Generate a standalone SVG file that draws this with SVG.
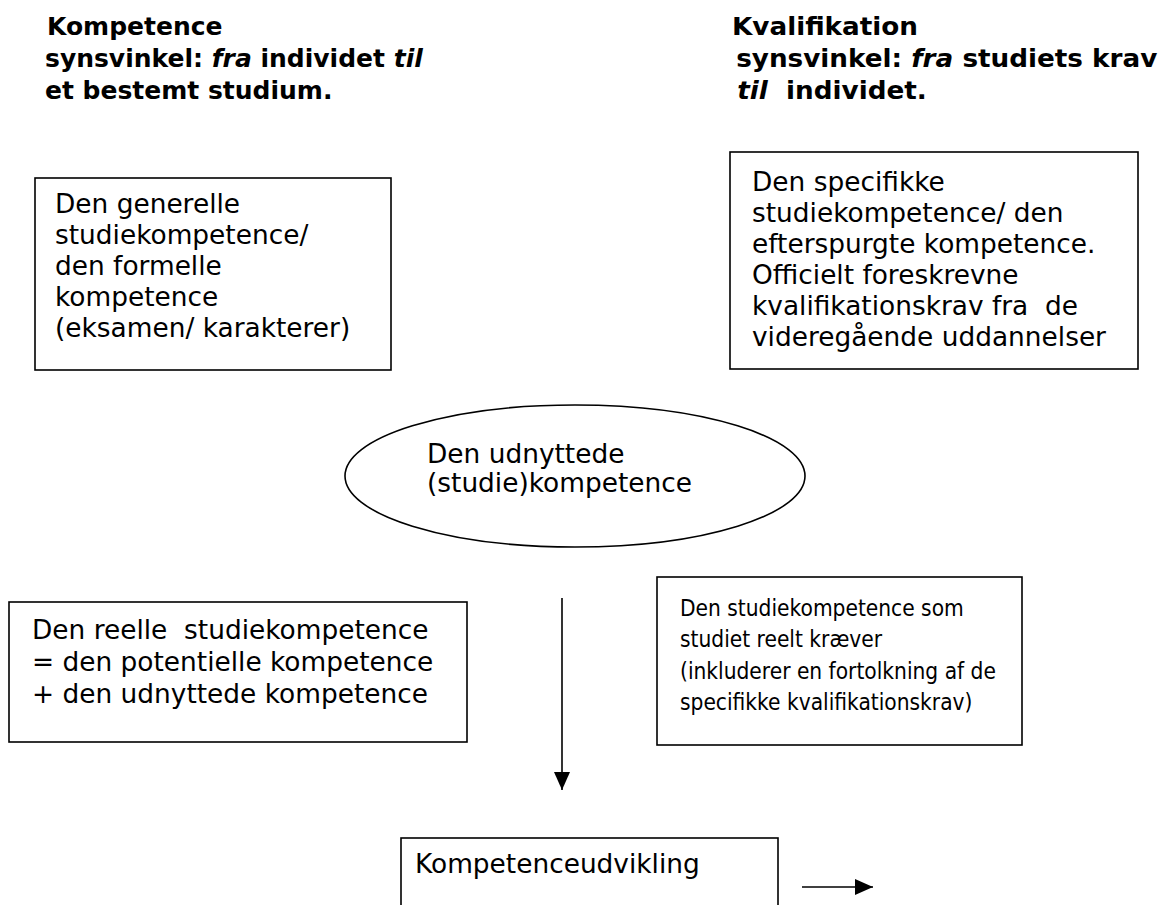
<svg xmlns="http://www.w3.org/2000/svg" width="1164" height="905" viewBox="0 0 1164 905">
  <defs>
    <style>
      .head { font-family: "DejaVu Sans", Verdana, sans-serif; font-size: 25px; font-weight: bold; fill: #000; white-space: pre; }
      .head .it { font-style: italic; }
      .body { font-family: "DejaVu Sans", Verdana, sans-serif; font-size: 26.4px; fill: #000; white-space: pre; }
      .narrow { font-size: 22.5px; }
      .box { fill: #fff; stroke: #000; stroke-width: 1.6; }
      .conn { fill: none; stroke: #000; stroke-width: 1.6; }
    </style>
    <marker id="arrowBig" viewBox="0 0 18 16" refX="18" refY="8" markerWidth="18" markerHeight="16" markerUnits="userSpaceOnUse" orient="auto">
      <path d="M0,0 L18,8 L0,16 Z" fill="#000"/>
    </marker>
  </defs>
  <rect width="1164" height="905" fill="#fff"/>

  <!-- column headings -->
  <g id="heading-kompetence">
    <text class="head" x="47" y="35">Kompetence</text>
    <text class="head" x="45" y="67">synsvinkel: <tspan class="it">fra</tspan> individet <tspan class="it">til</tspan></text>
    <text class="head" x="45" y="99">et bestemt studium.</text>
  </g>
  <g id="heading-kvalifikation" transform="matrix(1.05 0 0 1 732 0)">
    <text class="head" x="0" y="35">Kvalifikation</text>
    <text class="head" x="4" y="67">synsvinkel: <tspan class="it">fra</tspan> studiets krav</text>
    <text class="head" x="5" y="99"><tspan class="it">til</tspan>  individet.</text>
  </g>

  <!-- general study competence -->
  <g id="node-generel">
    <rect class="box" x="35" y="178" width="356" height="192"/>
    <text class="body">
      <tspan x="55" y="213">Den generelle</tspan>
      <tspan x="55" y="244">studiekompetence/</tspan>
      <tspan x="55" y="275">den formelle</tspan>
      <tspan x="55" y="306">kompetence</tspan>
      <tspan x="55" y="337">(eksamen/ karakterer)</tspan>
    </text>
  </g>

  <!-- specific study competence -->
  <g id="node-specifik">
    <rect class="box" x="730" y="152" width="408" height="217"/>
    <text class="body">
      <tspan x="752" y="191">Den specifikke</tspan>
      <tspan x="752" y="222">studiekompetence/ den</tspan>
      <tspan x="752" y="253">efterspurgte kompetence.</tspan>
      <tspan x="752" y="284">Officielt foreskrevne</tspan>
      <tspan x="752" y="315">kvalifikationskrav fra  de</tspan>
      <tspan x="752" y="346">videregående uddannelser</tspan>
    </text>
  </g>

  <!-- utilised competence -->
  <g id="node-udnyttede">
    <ellipse class="box" cx="575" cy="476" rx="230" ry="71"/>
    <text class="body">
      <tspan x="427" y="463">Den udnyttede</tspan>
      <tspan x="427" y="492">(studie)kompetence</tspan>
    </text>
  </g>

  <!-- real study competence -->
  <g id="node-reelle">
    <rect class="box" x="9" y="602" width="458" height="140"/>
    <text class="body">
      <tspan x="32" y="639">Den reelle  studiekompetence</tspan>
      <tspan x="32" y="671">= den potentielle kompetence</tspan>
      <tspan x="32" y="703">+ den udnyttede kompetence</tspan>
    </text>
  </g>

  <!-- competence the study actually requires -->
  <g id="node-kraever">
    <rect class="box" x="657" y="577" width="365" height="168"/>
    <text class="body narrow" transform="matrix(0.9 0 0 1 680 0)">
      <tspan x="0" y="616">Den studiekompetence som</tspan>
      <tspan x="0" y="647">studiet reelt kræver</tspan>
      <tspan x="0" y="679">(inkluderer en fortolkning af de</tspan>
      <tspan x="0" y="710">specifikke kvalifikationskrav)</tspan>
    </text>
  </g>

  <!-- competence development -->
  <g id="node-udvikling">
    <rect class="box" x="401" y="838" width="377" height="80"/>
    <text class="body">
      <tspan x="415" y="873">Kompetenceudvikling</tspan>
    </text>
  </g>

  <!-- connectors -->
  <g id="connectors">
    <line class="conn" x1="562" y1="598" x2="562" y2="790" marker-end="url(#arrowBig)"/>
    <line class="conn" x1="802" y1="887" x2="873" y2="887" marker-end="url(#arrowBig)"/>
  </g>
</svg>
